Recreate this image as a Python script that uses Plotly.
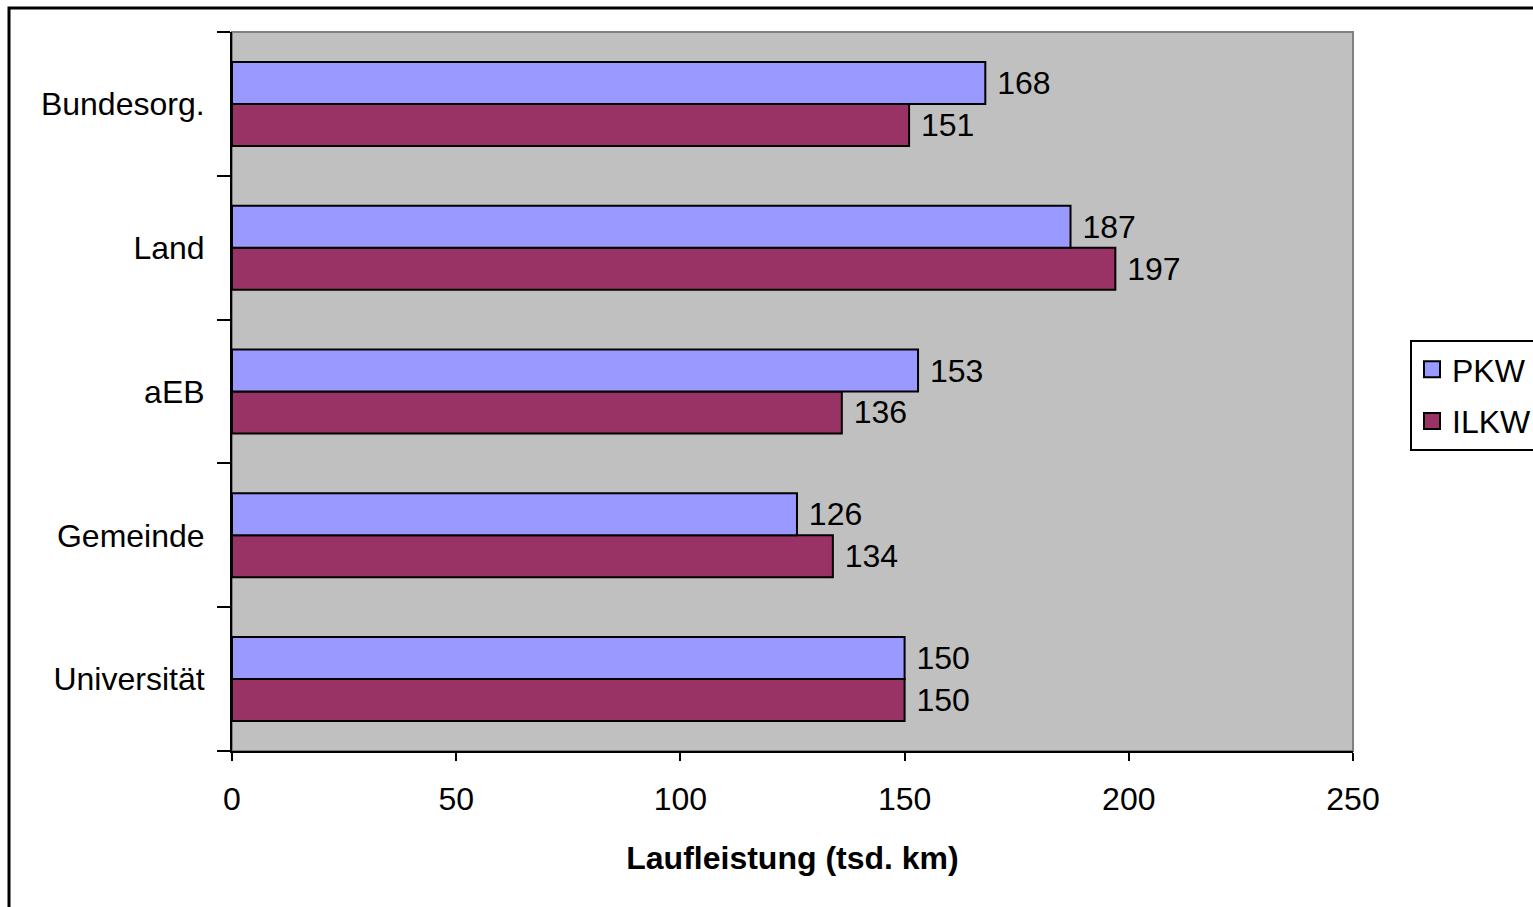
import plotly.graph_objects as go

# Categories listed bottom to top as they appear on the axis
categories = ["Universität", "Gemeinde", "aEB", "Land", "Bundesorg."]
pkw = [150, 126, 153, 187, 168]
ilkw = [150, 134, 136, 197, 151]
x_ticks = [0, 50, 100, 150, 200, 250]

FONT = "Liberation Sans, Arial, sans-serif"
W, H = 1533, 907
L, R, T, B = 232, 180, 32, 156
PKW_COLOR = "#9999FF"
ILKW_COLOR = "#993366"

fig = go.Figure()

# ILKW first so that PKW sits above it within each group
for name, vals, color in [("ILKW", ilkw, ILKW_COLOR), ("PKW", pkw, PKW_COLOR)]:
    fig.add_trace(go.Bar(
        name=name, y=categories, x=vals, orientation="h",
        marker=dict(color=color, line=dict(color="black", width=2)),
        text=vals, texttemplate=" %{x}", textposition="outside",
        textfont=dict(family=FONT, size=32, color="black"),
        constraintext="none", cliponaxis=False, showlegend=False,
    ))

# legend entries with larger square swatches
for name, color, grp in [("PKW", PKW_COLOR, "a"), ("ILKW", ILKW_COLOR, "b")]:
    fig.add_trace(go.Scatter(
        name=name, x=[None], y=[None], mode="markers",
        marker=dict(symbol="square", size=17, color=color,
                    line=dict(color="black", width=2)),
        legendgroup=grp, showlegend=True,
    ))

pw = W - L - R
ph = H - T - B

shapes = [
    # plot-area frame (grey top/right edges)
    dict(type="rect", xref="paper", yref="paper", x0=0, x1=1, y0=0, y1=1,
         line=dict(color="#808080", width=2), layer="below"),
    # outer chart border
    dict(type="rect", xref="paper", yref="paper",
         x0=(9 - L) / pw, x1=1.4, y0=-0.4, y1=(H - B - 8) / ph,
         line=dict(color="black", width=3), fillcolor="rgba(0,0,0,0)"),
]

fig.update_layout(
    width=W, height=H, autosize=False,
    margin=dict(l=L, r=R, t=T, b=B, pad=0, autoexpand=False),
    paper_bgcolor="white", plot_bgcolor="#C0C0C0",
    barmode="group", bargap=0.416, bargroupgap=0,
    font=dict(family=FONT, size=32, color="black"),
    showlegend=True,
    legend=dict(
        x=(1410 - L) / pw, y=(H - B - 340) / ph, xanchor="left", yanchor="top",
        traceorder="grouped", tracegroupgap=7, bgcolor="white",
        bordercolor="black", borderwidth=2,
        font=dict(family=FONT, size=32, color="black"),
    ),
    shapes=shapes,
    xaxis=dict(
        range=[0, 250], tickvals=x_ticks, ticktext=[str(v) for v in x_ticks],
        showgrid=False, zeroline=False,
        showline=True, linecolor="black", linewidth=2,
        ticks="outside", ticklen=8, tickwidth=2, tickcolor="black",
        ticklabelstandoff=11,
        tickfont=dict(family=FONT, size=32, color="black"),
        title=dict(text="<b>Laufleistung (tsd. km)</b>",
                   font=dict(family=FONT, size=32, color="black"), standoff=30),
        fixedrange=True,
    ),
    yaxis=dict(
        categoryorder="array", categoryarray=categories,
        showgrid=False, zeroline=False,
        showline=True, linecolor="black", linewidth=2,
        ticks="outside", ticklen=13, tickwidth=2, tickcolor="black",
        tickson="boundaries", ticklabelstandoff=19,
        tickfont=dict(family=FONT, size=32, color="black"),
        fixedrange=True,
    ),
)

fig.write_html("out.html")
